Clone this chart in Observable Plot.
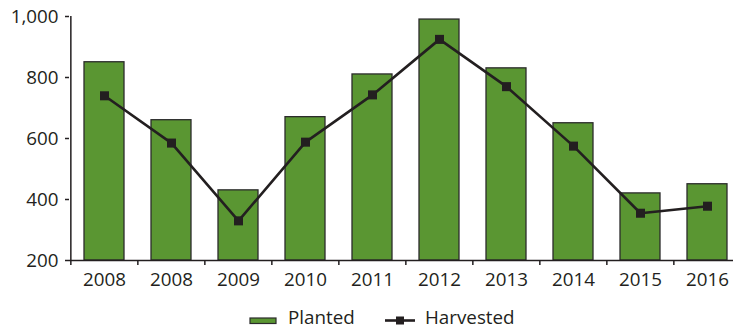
<!DOCTYPE html>
<html>
<head>
<meta charset="utf-8">
<script src="https://cdn.jsdelivr.net/npm/d3@7"></script>
<script src="https://cdn.jsdelivr.net/npm/@observablehq/plot@0.6"></script>
<style>
  body { margin: 0; background: #fff; }
  #chart { width: 733px; }
  .legend { position: relative; width: 733px; height: 37px; font-family: "Open Sans", sans-serif; font-size: 18.8px; color: #231f20; }
  .legend span { position: absolute; top: 13px; line-height: 19px; white-space: nowrap; }
  .legend svg { position: absolute; top: 0; left: 0; }
</style>
</head>
<body>
<div id="chart"></div>
<script>
const years = ["2008", "2008", "2009", "2010", "2011", "2012", "2013", "2014", "2015", "2016"];
const planted = [850, 660, 430, 670, 810, 990, 830, 650, 420, 450];
const harvested = [740, 585, 330, 588, 743, 925, 770, 575, 355, 378];
const yTicks = [200, 400, 600, 800, 1000];
const seriesNames = ["Planted", "Harvested"];

const data = years.map((y, i) => ({i, year: y, planted: planted[i], harvested: harvested[i]}));
const idx = d3.range(years.length);

const xRange = [69, 742];
const padIn = 0.4, padOut = 0.2;
const step = (xRange[1] - xRange[0]) / (years.length - padIn + 2 * padOut);

const ink = "#231f20";
const green = "#5a9632";

const chart = Plot.plot({
  width: 733,
  height: 295,
  marginLeft: 69,
  marginRight: 0,
  marginTop: 16,
  marginBottom: 35,
  style: {fontFamily: "'Open Sans', sans-serif", fontSize: "18.8px", color: ink, background: "transparent", overflow: "hidden"},
  x: {type: "band", domain: idx, range: xRange, paddingInner: padIn, paddingOuter: padOut, label: null},
  y: {domain: [200, 1000], range: [260, 16], label: null},
  marks: [
    Plot.barY(data, {x: "i", y1: 200, y2: "planted", fill: green, stroke: "#2b2b2b", strokeWidth: 1.3}),
    Plot.ruleY([200], {stroke: ink, strokeWidth: 1.5}),
    Plot.ruleX([0], {x: d => d, y1: 200, y2: 1000, dx: -step / 2, stroke: ink, strokeWidth: 1.5}),
    Plot.ruleX(idx, {x: d => d, y1: 200, y2: 200, insetBottom: -5, dx: -step / 2, stroke: ink, strokeWidth: 1.5}),
    Plot.line(data, {x: "i", y: "harvested", stroke: ink, strokeWidth: 2.6}),
    Plot.dot(data, {x: "i", y: "harvested", symbol: "square", r: 5.1, fill: ink, stroke: "none"}),
    Plot.axisX({tickSize: 0, tickPadding: 12, fontSize: 18.8, tickFormat: i => years[i], label: null}),
    Plot.axisY({ticks: yTicks, tickFormat: d3.format(","), tickSize: 4, tickPadding: 7, stroke: ink, strokeWidth: 1.5, fontSize: 18.8, label: null})
  ]
});
document.getElementById("chart").appendChild(chart);

const legend = document.createElement("div");
legend.className = "legend";
legend.innerHTML = `
<svg width="733" height="37">
  <rect x="250" y="23" width="26" height="5.5" fill="${green}" stroke="#2b2b2b" stroke-width="1.2"></rect>
  <line x1="385" x2="415" y1="25.5" y2="25.5" stroke="${ink}" stroke-width="2.6"></line>
  <rect x="396" y="21.5" width="8" height="8" fill="${ink}"></rect>
</svg>
<span style="left:288px">${seriesNames[0]}</span>
<span style="left:425px">${seriesNames[1]}</span>`;
document.body.appendChild(legend);
</script>
</body>
</html>
